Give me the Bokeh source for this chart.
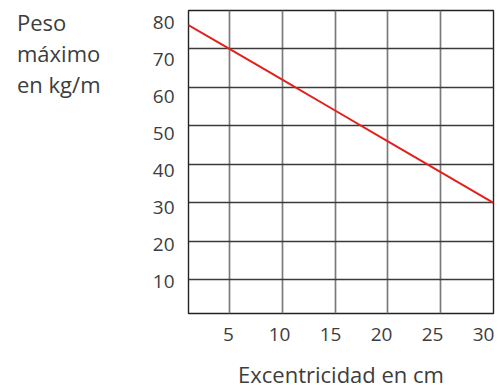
from bokeh.plotting import figure
from bokeh.models import Range1d, LinearAxis, FixedTicker, Div
from bokeh.layouts import row
from bokeh.embed import file_html
from bokeh.resources import INLINE

# Data
excentricidad = [0, 5, 10, 15, 20, 25, 30]
peso = [78, 70, 62, 54, 46, 38, 30]
x_ticks = [5, 10, 15, 20, 25, 30]
y_ticks = [10, 20, 30, 40, 50, 60, 70, 80]
title_lines = ["Peso", "máximo", "en kg/m"]
x_title = "Excentricidad en cm"

FONT = "Open Sans"
TXT = "#3d3d3d"

# ---- left strip holding the y title block ----
t = Div(text=('<div style="padding:7px 0 0 17px; font-family:\'Open Sans\'; '
              'font-size:22px; line-height:31px; color:%s; white-space:nowrap;">'
              % TXT) + "<br>".join(title_lines) + "</div>",
        width=140, height=391, margin=0)

# ---- main chart ----
p = figure(width=362, height=391, output_backend="svg", toolbar_location=None,
           x_range=Range1d(1.12, 30), y_range=Range1d(1.22, 80),
           min_border_left=48, min_border_right=9, min_border_top=10,
           min_border_bottom=76)
p.margin = 0
p.background_fill_color = "white"
p.border_fill_color = "white"
p.outline_line_color = "#222222"
p.outline_line_width = 1.4

for ax in p.xaxis + p.yaxis:
    ax.visible = False
p.xgrid.ticker = FixedTicker(ticks=x_ticks)
p.ygrid.ticker = FixedTicker(ticks=y_ticks)
p.xgrid.grid_line_color = "#7a7a7a"
p.xgrid.grid_line_width = 1.7
p.ygrid.grid_line_color = "#3a3a3a"
p.ygrid.grid_line_width = 1.3

# label axes on their own ranges (label placement)
p.extra_x_ranges = {"xl": Range1d(1.078, 30.98)}
p.extra_y_ranges = {"yl": Range1d(1.28, 83.14)}

xa = LinearAxis(x_range_name="xl", ticker=FixedTicker(ticks=x_ticks),
                axis_label=x_title)
ya = LinearAxis(y_range_name="yl", ticker=FixedTicker(ticks=y_ticks))
for ax in (xa, ya):
    ax.axis_line_color = None
    ax.major_tick_line_color = None
    ax.minor_tick_line_color = None
    ax.major_tick_out = 0
    ax.major_tick_in = 0
    ax.major_label_text_font = FONT
    ax.major_label_text_font_size = "19px"
    ax.major_label_text_color = TXT
xa.major_label_standoff = 14
ya.major_label_standoff = 14
xa.axis_label_text_font = FONT
xa.axis_label_text_font_size = "22px"
xa.axis_label_text_font_style = "normal"
xa.axis_label_text_color = TXT
xa.axis_label_standoff = 15

p.add_layout(xa, "below")
p.add_layout(ya, "left")

p.line(excentricidad, peso, line_color="#e3201b", line_width=2)

layout = row(t, p, spacing=0)
open("out.html", "w").write(file_html(layout, INLINE))
